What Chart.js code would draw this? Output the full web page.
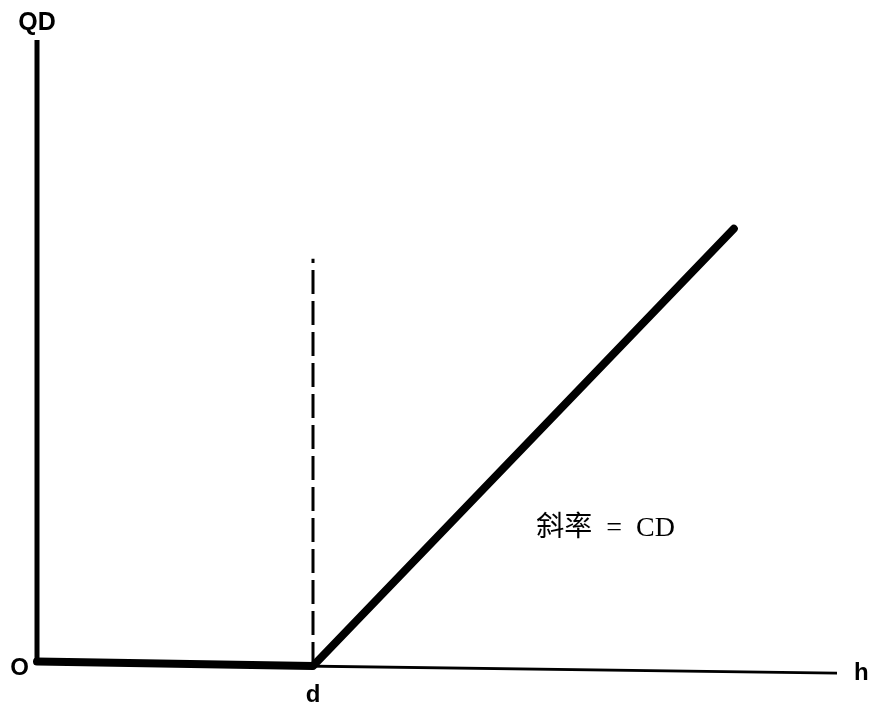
<!DOCTYPE html>
<html>
<head>
<meta charset="utf-8">
<script src="https://cdn.jsdelivr.net/npm/chart.js@4"></script>
<style>
  html, body { margin: 0; padding: 0; background: #fff; }
  canvas { display: block; }
</style>
</head>
<body>
<canvas id="qd-chart" width="869" height="706"></canvas>
<script>
// values (x: h, y: QD)
var dValue = 3.45;
var kinkX = [0, dValue, 8.71];
var kinkY = [0.055, -0.015, 6.98];
var dashX = [dValue, dValue];
var dashY = [-0.015, 6.5];
var xAxisX = [0, 10];
var xAxisY = [0.04, -0.13];
var yAxisX = [0, 0];
var yAxisY = [0, 10];

var yAxisLabel = "QD";
var xAxisLabel = "h";
var originLabel = "O";
var dLabel = "d";
var slopeLabel = "斜率  =  CD";

function pts(xs, ys) {
  return xs.map(function (x, i) { return { x: x, y: ys[i] }; });
}

var labelsPlugin = {
  id: "labels",
  afterDraw: function (chart) {
    var ctx = chart.ctx;
    var xs = chart.scales.x, ys = chart.scales.y;
    var x0 = xs.getPixelForValue(0), y0 = ys.getPixelForValue(0);
    ctx.save();
    ctx.fillStyle = "#000";
    ctx.textBaseline = "alphabetic";
    ctx.font = "bold 25px 'Liberation Sans', Arial, sans-serif";
    ctx.textAlign = "center";
    ctx.fillText(yAxisLabel, x0, ys.getPixelForValue(10) - 10);
    ctx.font = "bold 24px 'Liberation Sans', Arial, sans-serif";
    ctx.textAlign = "right";
    ctx.fillText(originLabel, x0 - 8, y0 + 10);
    ctx.textAlign = "center";
    ctx.fillText(dLabel, xs.getPixelForValue(dValue), y0 + 37);
    ctx.textAlign = "left";
    ctx.fillText(xAxisLabel, xs.getPixelForValue(10) + 17, ys.getPixelForValue(-0.13) + 7);
    ctx.font = "28px 'Liberation Serif', 'Noto Sans CJK SC', serif";
    ctx.fillText(slopeLabel, xs.getPixelForValue(6.24), ys.getPixelForValue(2.06));
    ctx.restore();
  }
};

new Chart(document.getElementById("qd-chart"), {
  type: "scatter",
  data: {
    datasets: [
      {
        label: "y axis",
        data: pts(yAxisX, yAxisY),
        showLine: true,
        clip: false,
        borderColor: "#000",
        borderWidth: 5,
        pointRadius: 0
      },
      {
        label: "x axis",
        data: pts(xAxisX, xAxisY),
        showLine: true,
        clip: false,
        borderColor: "#000",
        borderWidth: 3,
        pointRadius: 0
      },
      {
        label: "d",
        data: pts(dashX, dashY),
        showLine: true,
        clip: false,
        borderColor: "#000",
        borderWidth: 3,
        borderDash: [24, 7],
        pointRadius: 0
      },
      {
        label: "QD",
        data: pts(kinkX, kinkY),
        showLine: true,
        clip: false,
        borderColor: "#000",
        borderWidth: 8,
        borderCapStyle: "round",
        borderJoinStyle: "round",
        pointRadius: 0
      }
    ]
  },
  options: {
    responsive: false,
    animation: false,
    layout: { padding: { left: 37, right: 32, top: 40, bottom: 41 } },
    plugins: {
      legend: { display: false },
      tooltip: { enabled: false }
    },
    scales: {
      x: { type: "linear", min: 0, max: 10, display: false },
      y: { type: "linear", min: 0, max: 10, display: false }
    }
  },
  plugins: [labelsPlugin]
});
</script>
</body>
</html>
